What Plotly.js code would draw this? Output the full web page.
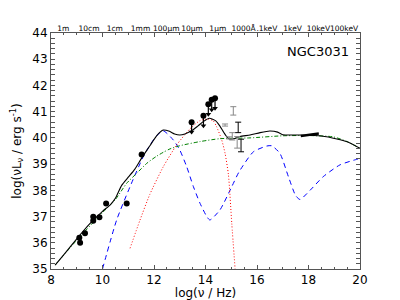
<!DOCTYPE html>
<html><head><meta charset="utf-8">
<script src="https://cdn.plot.ly/plotly-3.0.1.min.js"></script>
<style>body{margin:0;background:#fff}#c{width:400px;height:300px}</style>
</head><body><div id="c"></div>
<script>
// Detections
const detX = [9.10, 9.13, 9.32, 9.64, 9.64, 9.88, 10.14, 10.94, 11.52];
const detY = [36.19, 36.00, 36.36, 36.99, 36.84, 36.97, 37.50, 37.50, 39.37];
// Upper limits
const ulX = [13.46, 13.92, 14.11, 14.24, 14.37];
const ulY = [40.60, 40.84, 41.28, 41.45, 41.51];
const ulLen = [0.38, 0.38, 0.38, 0.38, 0.38];
// Error-bar data (grey)
const gX = [15.08, 14.76, 15.04, 14.92, 15.23];
const gY = [41.03, 40.49, 40.06, 40.00, 39.83];
const gE = [0.16, 0.04, 0.14, 0.04, 0.22];
// Error-bar data (black)
const bX = [15.27, 15.38];
const bY = [40.40, 39.71];
const bE = [0.20, 0.24];
// X-ray segment
const xrX = [17.70, 18.40];
const xrY = [40.07, 40.17];
// Total model
const totX = [8.16, 8.5, 9.0, 9.5, 10.0, 10.3, 10.5, 10.75, 11.0, 11.25, 11.5, 11.84, 12.1, 12.36, 12.6, 12.8, 13.0, 13.2, 13.46, 13.7, 13.91, 14.15, 14.4, 14.56, 14.69, 14.82, 14.95, 15.1, 15.34, 15.73, 16.12, 16.5, 16.8, 17.0, 17.67, 18.5, 19.1, 19.5, 20.0];
const totY = [35.15, 35.55, 36.15, 36.72, 37.2, 37.45, 37.7, 38.2, 38.5, 38.8, 39.2, 39.7, 40.08, 40.3, 40.25, 40.15, 40.11, 40.15, 40.27, 40.45, 40.62, 40.75, 40.65, 40.45, 40.24, 40.05, 39.95, 39.97, 40.05, 40.11, 40.2, 40.26, 40.22, 40.12, 40.11, 40.07, 39.96, 39.85, 39.6];
// Blue dashed component
const bluX = [10.0, 10.55, 11.07, 11.58, 11.84, 12.1, 12.36, 12.75, 13.0, 13.27, 13.53, 13.79, 14.05, 14.17, 14.56, 15.02, 15.3, 15.86, 16.38, 16.57, 16.89, 17.22, 17.5, 17.67, 18.06, 18.57, 19.22, 19.87, 20.0];
const bluY = [35.0, 36.87, 38.14, 39.28, 39.72, 40.08, 40.27, 39.92, 39.54, 38.9, 38.14, 37.5, 37.0, 36.87, 37.25, 38.14, 38.7, 39.47, 39.69, 39.7, 39.41, 38.52, 37.8, 37.65, 38.0, 38.52, 38.97, 39.18, 39.2];
// Red dotted component
const redX = [11.07, 11.45, 11.84, 12.36, 12.88, 13.4, 13.79, 14.1, 14.3, 14.43, 14.63, 14.76, 14.89, 15.02, 15.15];
const redY = [35.79, 36.85, 37.85, 38.9, 39.73, 40.35, 40.66, 40.72, 40.65, 40.43, 39.92, 39.41, 38.6, 36.74, 35.0];
// Green dash-dot component
const grnX = [8.16, 9.0, 10.0, 10.5, 10.94, 11.33, 11.72, 12.1, 12.36, 12.62, 13.0, 13.79, 14.56, 15.73, 17.0, 18.0, 18.96, 19.5, 20.0];
const grnY = [35.15, 36.1, 37.15, 37.65, 38.27, 38.65, 39.03, 39.3, 39.45, 39.58, 39.7, 39.86, 39.97, 40.0, 40.08, 40.09, 40.04, 39.86, 39.6];
// Top axis
const topVals = [8.477, 9.477, 10.477, 11.477, 12.477, 13.477, 14.477, 15.477, 16.383, 17.383, 18.383, 19.383];
const topText = ['1m', '10cm', '1cm', '1mm', '100μm', '10μm', '1μm', '1000Å', '.1keV', '1keV', '10keV', '100keV'];

const arrowTipY = ulY.map((y, i) => y - ulLen[i]);

const traces = [
  {x: bluX, y: bluY, mode: 'lines', line: {color: '#0000ff', width: 1, dash: '5px,4px', shape: 'spline', smoothing: 0.6}, hoverinfo: 'skip'},
  {x: redX, y: redY, mode: 'lines', line: {color: '#ff0000', width: 1, dash: '1px,2px', shape: 'spline', smoothing: 0.6}, hoverinfo: 'skip'},
  {x: grnX, y: grnY, mode: 'lines', line: {color: '#008000', width: 1, dash: '4px,2px,1px,2px', shape: 'spline', smoothing: 0.6}, hoverinfo: 'skip'},
  {x: totX, y: totY, mode: 'lines', line: {color: '#000', width: 1.1, shape: 'spline', smoothing: 0.6}, hoverinfo: 'skip'},
  {x: xrX, y: xrY, mode: 'lines', line: {color: '#000', width: 2.5}},
  {x: gX, y: gY, mode: 'markers', marker: {size: 1, color: 'rgba(0,0,0,0)'},
   error_y: {type: 'data', array: gE, color: '#888', thickness: 1, width: 3}},
  {x: bX, y: bY, mode: 'markers', marker: {size: 1, color: 'rgba(0,0,0,0)'},
   error_y: {type: 'data', array: bE, color: '#000', thickness: 1, width: 3}},
  {x: detX, y: detY, mode: 'markers', marker: {size: 6, color: '#000'}},
  {x: ulX, y: ulY, mode: 'markers', marker: {size: 6, color: '#000'},
   error_y: {type: 'data', symmetric: false, array: ulLen.map(() => 0), arrayminus: ulLen, color: '#000', thickness: 1.2, width: 0}},
  {x: ulX, y: arrowTipY, mode: 'markers', marker: {symbol: 'triangle-down', size: 5, color: '#000'}},
  {x: [8, 20], y: [35, 35], xaxis: 'x2', mode: 'lines', line: {width: 0}, hoverinfo: 'skip'}
];

const annotations = [{x: 0.97, y: 0.92, xref: 'paper', yref: 'paper', xanchor: 'right', yanchor: 'middle',
  text: 'NGC3031', showarrow: false, font: {family: 'DejaVu Sans', size: 13, color: '#000'}}];

const axisCommon = {showgrid: false, zeroline: false, showline: true, linecolor: '#555', linewidth: 1,
  ticks: 'inside', ticklen: 4, tickcolor: '#555', tickfont: {family: 'DejaVu Sans', size: 12, color: '#000'}};

const layout = {
  width: 400, height: 300,
  margin: {l: 51, r: 40, t: 33, b: 31},
  paper_bgcolor: '#fff', plot_bgcolor: '#fff',
  showlegend: false,
  font: {family: 'DejaVu Sans', color: '#000'},
  xaxis: Object.assign({}, axisCommon, {range: [8, 20], dtick: 2, tick0: 8, mirror: 'allticks',
    minor: {ticks: 'inside', dtick: 0.5, ticklen: 2, tickcolor: '#555'},
    title: {text: 'log(ν / Hz)', font: {size: 12}, standoff: 1}}),
  xaxis2: {overlaying: 'x', side: 'top', range: [8, 20], tickmode: 'array', tickvals: topVals, ticktext: topText,
    ticks: '', showline: false, showgrid: false, zeroline: false, tickangle: 0,
    tickfont: {family: 'DejaVu Sans', size: 7.5, color: '#000'}},
  yaxis: Object.assign({}, axisCommon, {range: [35, 44], dtick: 1, tick0: 35, mirror: 'allticks',
    minor: {ticks: 'inside', dtick: 0.2, ticklen: 2, tickcolor: '#555'},
    title: {text: 'log(νL<sub>ν</sub> / erg s<sup>-1</sup>)', font: {size: 12}, standoff: 8}}),
  annotations: annotations
};

Plotly.newPlot('c', traces, layout, {staticPlot: true});
</script></body></html>
